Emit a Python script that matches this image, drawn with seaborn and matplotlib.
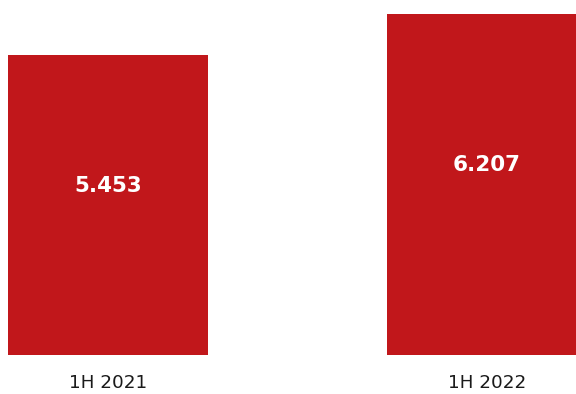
import matplotlib
matplotlib.use("Agg")
import matplotlib.pyplot as plt
import seaborn as sns
import pandas as pd

periods = ["1H 2021", "1H 2022"]
values = [5.453, 6.207]
value_labels = ["5.453", "6.207"]

sns.set_style("white")
plt.rcParams["font.family"] = ["DejaVu Sans"]

df = pd.DataFrame({"period": periods, "value": values})

fig = plt.figure(figsize=(5.76, 3.94), dpi=100)
ax = fig.add_axes([0.0, 1 - 355 / 394, 1.0, 355 / 394])

sns.barplot(data=df, x="period", y="value", color="#C1171B", saturation=1,
            width=0.528, ax=ax, edgecolor="none")

ax.set_xlim(-0.285, 1.235)
ax.set_ylim(0, 6.457)

for i, (v, lab) in enumerate(zip(values, value_labels)):
    ax.annotate(lab, (i, v / 2), xytext=(0, 14), textcoords="offset points",
                ha="center", va="center", color="white", fontsize=15.5,
                fontweight="bold")

ax.set_xlabel("")
ax.set_ylabel("")
ax.set_yticks([])
ax.tick_params(axis="x", length=0, pad=13.5, labelsize=13.2, labelcolor="#1a1a1a")
for s in ax.spines.values():
    s.set_visible(False)

fig.savefig("out.png", dpi=100)
